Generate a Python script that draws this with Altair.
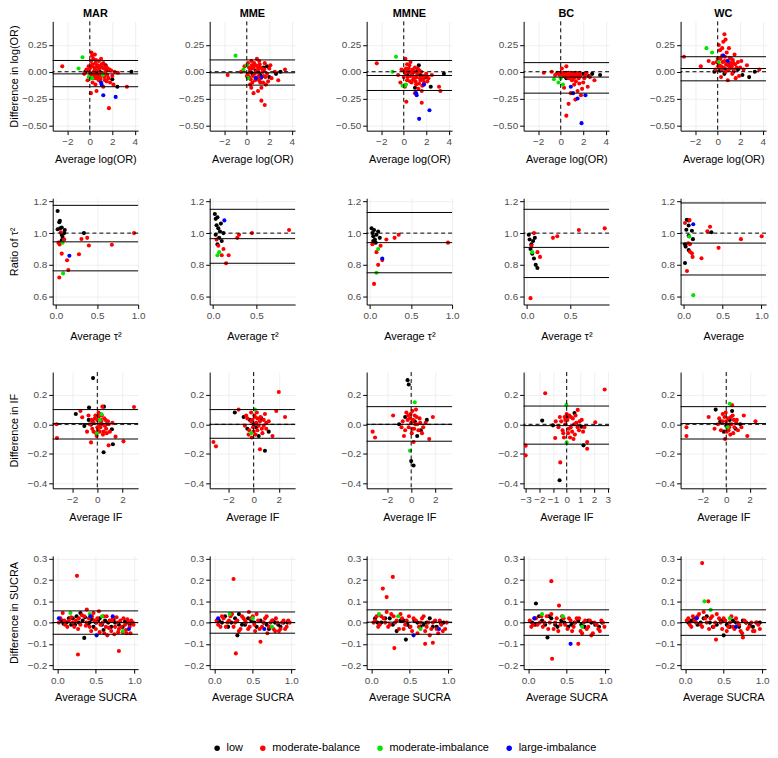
import altair as alt
import pandas as pd

FONT = "Liberation Sans"
METHODS = ["MAR", "MME", "MMNE", "BC", "WC"]
CATEGORIES = ["low", "moderate-balance", "moderate-imbalance", "large-imbalance"]
CAT_COLORS = ["#000000", "#ff0000", "#00e600", "#0000ff"]
CODES = {"l": "low", "r": "moderate-balance", "g": "moderate-imbalance", "b": "large-imbalance"}

# ---------------- Row 1: log(OR) ----------------
LOR_MAR = [(-2.45,0.05,'r'),(-0.5,-0.02,'r'),(-0.3,0.02,'r'),(-0.2,-0.08,'r'),(0.0,0.03,'r'),(0.1,0.1,'r'),(0.15,0.18,'r'),(0.2,0.15,'r'),(0.3,0.12,'r'),(0.4,0.04,'r'),(0.5,0.08,'r'),(0.6,-0.03,'r'),(0.7,0.06,'r'),(0.9,0.05,'r'),(0.9,-0.01,'r'),(1.0,-0.04,'r'),(1.1,0.04,'r'),(1.3,-0.05,'r'),(1.4,0.0,'r'),(1.5,-0.09,'r'),(1.6,0.03,'r'),(1.8,-0.1,'r'),(1.9,0.01,'r'),(2.0,-0.04,'r'),(2.1,-0.12,'r'),(2.2,0.0,'r'),(2.5,-0.01,'r'),(0.3,-0.06,'r'),(0.8,-0.08,'r'),(0.5,-0.12,'r'),(1.2,-0.14,'r'),(0.1,-0.2,'r'),(0.6,-0.18,'r'),(1.7,-0.34,'r'),(3.3,-0.14,'r'),(0.2,-0.04,'r'),(0.35,0.0,'r'),(0.6,0.02,'r'),(0.8,0.1,'r'),(1.2,0.08,'r'),(-0.1,0.05,'r'),(0.25,-0.1,'r'),(1.0,0.12,'r'),(0.45,0.16,'r'),
           (0.3,-0.01,'l'),(0.5,0.0,'l'),(0.7,-0.02,'l'),(0.4,-0.03,'l'),(1.4,0.06,'l'),(1.5,0.02,'l'),(3.7,0.0,'l'),(2.45,-0.14,'l'),(2.0,-0.07,'l'),(-0.4,0.0,'l'),(0.9,0.0,'l'),(1.2,-0.03,'l'),(0.2,-0.02,'l'),(0.6,-0.01,'l'),
           (-0.65,0.135,'g'),(-1.0,0.03,'g'),(-0.1,-0.05,'g'),(1.15,-0.03,'g'),(0.2,-0.06,'g'),
           (1.0,-0.1,'b'),(1.05,-0.12,'b'),(1.2,-0.22,'b'),(2.3,-0.235,'b')]
LOR_MAR_EXTRA = [(0.15,0.05,'r'),(0.25,0.07,'r'),(0.35,-0.03,'r'),(0.45,0.02,'r'),(0.55,-0.06,'r'),(0.65,0.05,'r'),(0.75,-0.05,'r'),(0.85,0.03,'r'),(0.95,-0.07,'r'),(1.05,0.07,'r'),(1.15,-0.02,'r'),(1.25,0.03,'r'),(1.35,-0.08,'r'),(1.45,0.05,'r'),(1.55,-0.03,'r'),(1.65,-0.06,'r'),(1.75,0.02,'r'),(0.05,-0.03,'r'),(-0.05,0.0,'r'),(0.55,0.11,'r')]
LOR_MME = [(-1.7,-0.03,'r'),(-0.5,0.0,'r'),(-0.2,0.05,'r'),(0.1,0.08,'r'),(0.2,-0.05,'r'),(0.3,0.02,'r'),(0.4,0.1,'r'),(0.5,-0.1,'r'),(0.6,0.04,'r'),(0.7,-0.02,'r'),(0.8,0.06,'r'),(0.9,-0.06,'r'),(1.0,0.02,'r'),(1.1,-0.08,'r'),(1.2,0.04,'r'),(1.3,-0.15,'r'),(1.4,0.0,'r'),(1.5,-0.04,'r'),(1.6,0.08,'r'),(1.7,-0.12,'r'),(1.8,-0.02,'r'),(2.0,0.03,'r'),(2.2,-0.06,'r'),(2.5,0.0,'r'),(2.8,-0.08,'r'),(3.4,0.02,'r'),(0.6,-0.2,'r'),(1.3,-0.27,'r'),(1.6,-0.31,'r'),(1.0,-0.18,'r'),(0.3,-0.12,'r'),(0.9,0.12,'r'),(1.2,-0.1,'r'),(0.5,0.03,'r'),(0.1,-0.02,'r'),
           (0.5,-0.02,'l'),(1.0,0.0,'l'),(1.5,0.04,'l'),(1.8,0.05,'l'),(2.0,-0.05,'l'),(0.8,0.01,'l'),(0.3,0.0,'l'),(1.2,-0.03,'l'),(2.6,-0.02,'l'),(3.0,0.0,'l'),
           (-1.0,0.15,'g'),(0.1,-0.06,'g'),(-0.3,0.02,'g'),(0.0,0.06,'g'),
           (0.8,-0.06,'b'),(1.3,-0.05,'b')]
LOR_MME_EXTRA = [(0.2,0.04,'r'),(0.35,-0.07,'r'),(0.45,0.06,'r'),(0.55,-0.04,'r'),(0.65,0.08,'r'),(0.75,-0.08,'r'),(0.85,0.0,'r'),(0.95,0.05,'r'),(1.05,-0.04,'r'),(1.15,0.07,'r'),(1.25,-0.06,'r'),(1.35,0.03,'r'),(1.45,-0.1,'r'),(1.55,0.02,'r'),(1.65,-0.05,'r'),(1.9,-0.09,'r'),(2.1,0.06,'r'),(0.0,-0.04,'r'),(0.4,-0.15,'r'),(1.1,0.1,'r')]
LOR_MMNE = [(-2.4,0.078,'r'),(0.15,0.12,'r'),(0.23,-0.28,'r'),(1.6,-0.29,'r'),(3.14,-0.14,'r'),(3.26,-0.18,'r'),(-0.5,-0.03,'r'),(-0.2,0.02,'r'),(0.0,-0.05,'r'),(0.2,0.03,'r'),(0.3,-0.08,'r'),(0.4,0.0,'r'),(0.5,0.06,'r'),(0.6,-0.04,'r'),(0.7,-0.1,'r'),(0.8,0.02,'r'),(0.9,-0.06,'r'),(1.0,0.04,'r'),(1.1,-0.12,'r'),(1.2,-0.02,'r'),(1.3,-0.16,'r'),(1.4,0.01,'r'),(1.5,-0.08,'r'),(1.6,-0.18,'r'),(1.7,-0.04,'r'),(1.8,-0.1,'r'),(2.0,-0.02,'r'),(2.2,-0.06,'r'),(2.5,-0.03,'r'),(0.3,0.07,'r'),(1.0,-0.2,'r'),(0.6,0.09,'r'),(-0.3,-0.1,'r'),(0.1,-0.14,'r'),
            (1.34,0.06,'l'),(3.57,-0.02,'l'),(2.4,-0.14,'l'),(1.0,-0.15,'l'),(0.5,0.0,'l'),(0.8,-0.01,'l'),(1.2,0.01,'l'),(0.3,-0.02,'l'),(1.5,-0.03,'l'),(2.0,-0.05,'l'),
            (-0.69,0.14,'g'),(-1.0,0.0,'g'),(-0.1,-0.13,'g'),(0.2,-0.12,'g'),(0.05,-0.13,'g'),
            (1.1,-0.2,'b'),(1.15,-0.22,'b'),(1.37,-0.44,'b'),(2.29,-0.36,'b'),(1.8,-0.12,'b')]
LOR_MMNE_EXTRA = [(0.15,-0.02,'r'),(0.25,0.02,'r'),(0.35,-0.05,'r'),(0.45,0.03,'r'),(0.55,-0.09,'r'),(0.65,0.0,'r'),(0.75,-0.03,'r'),(0.85,-0.07,'r'),(0.95,0.0,'r'),(1.05,-0.09,'r'),(1.15,-0.05,'r'),(1.25,0.03,'r'),(1.35,-0.11,'r'),(1.45,-0.06,'r'),(1.55,0.0,'r'),(1.65,-0.13,'r'),(1.75,-0.07,'r'),(1.9,-0.04,'r'),(2.1,-0.09,'r'),(0.05,0.01,'r')]
LOR_BC = [(-1.5,-0.01,'r'),(-0.8,0.0,'r'),(-0.5,-0.03,'r'),(-0.2,-0.02,'r'),(0.0,-0.01,'r'),(0.2,-0.04,'r'),(0.4,-0.02,'r'),(0.5,-0.41,'r'),(0.6,-0.05,'r'),(0.8,-0.03,'r'),(1.0,-0.08,'r'),(1.1,-0.02,'r'),(1.2,-0.12,'r'),(1.4,-0.04,'r'),(1.5,-0.18,'r'),(1.6,-0.06,'r'),(1.8,-0.22,'r'),(2.0,-0.1,'r'),(2.2,-0.03,'r'),(2.4,-0.14,'r'),(2.6,-0.05,'r'),(3.0,-0.08,'r'),(0.7,-0.3,'r'),(1.3,-0.26,'r'),(0.3,-0.15,'r'),(0.9,-0.2,'r'),(1.9,-0.16,'r'),(0.1,0.03,'r'),(0.5,0.05,'r'),(1.7,-0.01,'r'),
          (-0.3,-0.01,'l'),(0.3,-0.02,'l'),(0.7,-0.01,'l'),(1.0,-0.03,'l'),(1.3,-0.01,'l'),(1.6,-0.02,'l'),(2.0,-0.02,'l'),(2.5,-0.04,'l'),(3.5,-0.03,'l'),(0.5,-0.06,'l'),(1.2,-0.05,'l'),(2.8,-0.02,'l'),
          (-0.6,-0.07,'g'),(-0.2,-0.1,'g'),(0.2,-0.12,'g'),(0.0,-0.06,'g'),
          (1.85,-0.48,'b'),(1.5,-0.25,'b'),(2.2,-0.22,'b'),(1.1,-0.2,'b'),(0.9,-0.14,'b')]
LOR_BC_EXTRA = [(0.15,-0.02,'r'),(0.25,-0.01,'r'),(0.35,-0.04,'r'),(0.45,-0.01,'r'),(0.55,-0.03,'r'),(0.65,-0.02,'r'),(0.75,-0.06,'r'),(0.85,-0.01,'r'),(0.95,-0.04,'r'),(1.05,-0.02,'r'),(1.15,-0.06,'r'),(1.25,-0.03,'r'),(1.35,-0.09,'r'),(1.45,-0.02,'r'),(1.55,-0.05,'r'),(1.65,-0.11,'r'),(1.75,-0.04,'r'),(2.1,-0.06,'r'),(2.3,-0.01,'r'),(-0.1,-0.03,'r')]
LOR_WC = [(-3.0,0.14,'r'),(-1.5,0.05,'r'),(-0.8,0.1,'r'),(-0.4,0.08,'r'),(-0.2,0.02,'r'),(0.0,0.12,'r'),(0.2,0.2,'r'),(0.3,0.05,'r'),(0.4,0.15,'r'),(0.5,0.28,'r'),(0.6,0.35,'r'),(0.6,0.1,'r'),(0.7,0.0,'r'),(0.8,0.18,'r'),(0.9,0.06,'r'),(1.0,0.22,'r'),(1.1,0.03,'r'),(1.2,0.12,'r'),(1.3,-0.02,'r'),(1.4,0.08,'r'),(1.5,0.16,'r'),(1.7,0.04,'r'),(1.9,-0.04,'r'),(2.1,0.1,'r'),(2.3,0.02,'r'),(2.6,0.06,'r'),(3.7,0.02,'r'),(0.3,-0.05,'r'),(0.9,-0.08,'r'),(1.6,-0.06,'r'),(0.1,0.25,'r'),(0.7,0.3,'r'),
          (-0.3,0.0,'l'),(0.2,0.01,'l'),(0.5,0.03,'l'),(0.8,0.02,'l'),(1.1,0.05,'l'),(1.4,0.0,'l'),(1.8,0.02,'l'),(2.2,-0.03,'l'),(2.8,-0.05,'l'),(3.3,0.0,'l'),(0.6,-0.02,'l'),(1.0,0.07,'l'),
          (-1.0,0.22,'g'),(-0.5,0.18,'g'),(0.1,0.09,'g'),
          (0.5,0.15,'b'),(0.9,0.1,'b')]
LOR_WC_EXTRA = [(0.15,0.06,'r'),(0.25,0.12,'r'),(0.35,0.02,'r'),(0.45,0.09,'r'),(0.55,0.04,'r'),(0.65,0.14,'r'),(0.75,0.07,'r'),(0.85,0.1,'r'),(0.95,0.02,'r'),(1.05,0.13,'r'),(1.15,0.08,'r'),(1.25,0.05,'r'),(1.35,0.11,'r'),(1.45,0.02,'r'),(1.55,0.07,'r'),(1.8,0.09,'r'),(2.0,0.04,'r'),(0.05,0.05,'r'),(-0.1,0.09,'r'),(0.4,0.22,'r')]
LOR_UPPER = [0.105, 0.11, 0.105, 0.085, 0.14]
LOR_MEAN = [-0.02, -0.01, -0.035, -0.05, 0.03]
LOR_LOWER = [-0.14, -0.125, -0.175, -0.2, -0.085]

# ---------------- Row 2: ratio of tau^2 ----------------
TAU_MAR = [(0.02,1.139,'l'),(0.047,1.078,'l'),(0.04,1.069,'l'),(0.02,1.024,'l'),(0.05,1.03,'l'),(0.07,1.035,'l'),(0.107,1.02,'l'),(0.07,0.99,'l'),(0.08,0.975,'l'),(0.07,0.955,'l'),(0.34,1.0,'l'),(0.1,1.0,'l'),
           (0.044,0.929,'r'),(0.03,0.94,'r'),(0.06,1.005,'r'),(0.07,0.871,'r'),(0.135,0.829,'r'),(0.15,0.767,'r'),(0.04,0.72,'r'),(0.28,0.867,'r'),(0.31,0.963,'r'),(0.38,0.97,'r'),(0.4,0.922,'r'),(0.68,0.927,'r'),(0.95,1.0,'r'),(0.1,0.96,'r'),
           (0.08,0.939,'g'),(0.087,0.746,'g'),
           (0.163,0.857,'b')]
TAU_MME = [(0.02,1.12,'l'),(0.03,1.09,'l'),(0.05,1.1,'l'),(0.04,1.05,'l'),(0.06,1.03,'l'),(0.08,1.01,'l'),(0.03,0.99,'l'),(0.07,0.97,'l'),(0.1,0.95,'l'),(0.05,0.93,'l'),(0.12,1.0,'l'),(0.09,1.06,'l'),
           (0.04,0.96,'r'),(0.1,0.86,'r'),(0.15,0.81,'r'),(0.18,0.86,'r'),(0.12,0.9,'r'),(0.28,0.97,'r'),(0.3,0.99,'r'),(0.45,1.0,'r'),(0.88,1.02,'r'),(0.06,0.92,'r'),
           (0.05,0.86,'g'),(0.07,0.88,'g'),
           (0.13,1.08,'b')]
TAU_MMNE = [(0.02,1.03,'l'),(0.03,1.0,'l'),(0.04,0.98,'l'),(0.05,1.02,'l'),(0.06,0.96,'l'),(0.08,0.99,'l'),(0.1,1.01,'l'),(0.07,0.94,'l'),(0.12,0.97,'l'),(0.04,0.95,'l'),
            (0.03,0.93,'r'),(0.05,0.68,'r'),(0.1,0.8,'r'),(0.13,0.92,'r'),(0.15,0.83,'r'),(0.3,0.97,'r'),(0.35,0.99,'r'),(0.95,0.94,'r'),(0.2,0.96,'r'),(0.08,0.88,'r'),
            (0.08,0.75,'g'),(0.1,0.9,'g'),
            (0.15,0.84,'b')]
TAU_BC = [(0.02,0.99,'l'),(0.03,0.96,'l'),(0.05,0.93,'l'),(0.04,0.9,'l'),(0.06,0.87,'l'),(0.08,0.84,'l'),(0.1,0.8,'l'),(0.12,0.78,'l'),(0.07,0.95,'l'),(0.09,0.97,'l'),
          (0.04,0.59,'r'),(0.15,0.85,'r'),(0.3,0.97,'r'),(0.35,0.98,'r'),(0.6,1.02,'r'),(0.9,1.03,'r'),(0.05,0.92,'r'),(0.12,0.88,'r'),(0.08,1.0,'r'),
          (0.06,0.88,'g')]
TAU_WC = [(0.04,1.084,'l'),(0.064,1.08,'l'),(0.034,1.021,'l'),(0.064,1.048,'l'),(0.106,1.015,'l'),(0.064,0.983,'l'),(0.119,0.962,'l'),(0.017,0.93,'l'),(0.025,0.915,'l'),(0.064,0.893,'l'),(0.017,0.812,'l'),(0.356,1.005,'l'),
          (0.017,1.064,'r'),(0.076,1.082,'r'),(0.059,0.936,'r'),(0.08,0.883,'r'),(0.106,0.873,'r'),(0.114,0.85,'r'),(0.229,0.842,'r'),(0.042,0.761,'r'),(0.305,1.011,'r'),(0.339,1.04,'r'),(0.449,0.907,'r'),(0.737,0.962,'r'),(1.004,0.98,'r'),(0.08,0.93,'r'),
          (0.123,0.609,'g'),(0.072,0.978,'g'),
          (0.123,1.056,'b')]
TAU_UPPER = [1.175, 1.15, 1.13, 1.15, 1.19]
TAU_MEAN = [0.945, 0.965, 0.94, 0.91, 0.937]
TAU_LOWER = [0.762, 0.81, 0.75, 0.72, 0.736]

# ---------------- Row 3: inconsistency factor ----------------
IF_MAR = [(-0.34,0.314,'l'),(-0.66,0.114,'l'),(-1.71,0.07,'l'),(-0.68,0.03,'l'),(-0.39,0.025,'l'),(-0.5,-0.002,'l'),(-1.03,-0.011,'l'),(0.53,0.12,'l'),(0.71,0.0,'l'),(1.16,-0.034,'l'),(1.24,-0.136,'l'),(0.5,-0.19,'l'),(0.24,0.03,'l'),
          (2.92,0.118,'r'),(-3.24,0.0,'r'),(-3.21,-0.093,'r'),(-1.34,0.09,'r'),(-1.2,0.048,'r'),(-0.82,-0.05,'r'),(-0.5,-0.123,'r'),(0.9,-0.143,'r'),(1.45,-0.084,'r'),(2.08,-0.116,'r'),(0.4,0.12,'r'),(-0.7,0.06,'r'),(-0.4,-0.03,'r'),(-0.2,0.04,'r'),(0.0,-0.02,'r'),(0.1,0.05,'r'),(0.2,-0.05,'r'),(0.3,0.02,'r'),(0.45,-0.07,'r'),(0.55,0.04,'r'),(0.7,-0.03,'r'),(0.85,0.02,'r'),(1.0,-0.05,'r'),(1.2,0.01,'r'),(-0.1,-0.06,'r'),(0.15,0.0,'r'),(0.35,0.06,'r'),(-0.3,0.01,'r'),(0.6,-0.01,'r'),
          (0.34,0.068,'g'),(-0.03,-0.06,'g'),(0.2,0.03,'g')]
IF_MAR_EXTRA = [(-0.6,0.0,'r'),(-0.45,0.03,'r'),(-0.3,-0.05,'r'),(-0.15,0.06,'r'),(0.0,0.03,'r'),(0.05,-0.04,'r'),(0.2,0.07,'r'),(0.25,-0.02,'r'),(0.4,0.0,'r'),(0.5,-0.05,'r'),(0.65,0.03,'r'),(0.75,-0.06,'r'),(0.9,0.0,'r'),(-0.05,-0.08,'r'),(0.1,0.08,'r')]
IF_MME = [(-1.5,0.08,'l'),(-0.8,0.05,'l'),(-0.3,0.03,'l'),(0.2,-0.02,'l'),(0.6,0.04,'l'),(0.9,-0.18,'l'),(1.2,-0.05,'l'),(0.0,0.0,'l'),(-0.5,-0.03,'l'),(0.4,-0.08,'l'),
          (2.0,0.22,'r'),(-3.2,-0.12,'r'),(-3.0,-0.15,'r'),(0.5,-0.17,'r'),(-1.2,0.1,'r'),(-0.6,0.06,'r'),(-0.2,0.08,'r'),(0.1,0.05,'r'),(0.3,-0.04,'r'),(0.5,0.02,'r'),(0.7,-0.06,'r'),(0.9,0.07,'r'),(1.2,0.02,'r'),(1.5,-0.08,'r'),(1.8,0.09,'r'),(2.5,0.05,'r'),(-0.4,-0.07,'r'),(0.2,0.01,'r'),(0.0,-0.05,'r'),(-0.1,0.03,'r'),(0.8,-0.01,'r'),(1.0,-0.03,'r'),
          (0.1,0.1,'g'),(-0.2,-0.06,'g')]
IF_MME_EXTRA = [(-0.7,-0.01,'r'),(-0.5,0.04,'r'),(-0.35,-0.04,'r'),(-0.2,0.02,'r'),(-0.05,-0.02,'r'),(0.05,0.06,'r'),(0.15,-0.07,'r'),(0.3,0.04,'r'),(0.4,-0.01,'r'),(0.55,0.05,'r'),(0.65,-0.03,'r'),(0.8,0.03,'r'),(1.0,0.01,'r'),(0.25,0.08,'r'),(-0.15,-0.09,'r')]
IF_MMNE = [(-0.3,0.3,'l'),(-0.2,0.27,'l'),(0.0,-0.25,'l'),(0.2,-0.28,'l'),(-0.5,0.05,'l'),(0.3,0.02,'l'),(0.8,-0.04,'l'),(1.3,0.03,'l'),(-1.0,0.0,'l'),(0.5,-0.08,'l'),
           (-3.2,-0.05,'r'),(-3.0,-0.09,'r'),(1.5,-0.1,'r'),(-1.5,0.06,'r'),(-0.8,-0.02,'r'),(-0.4,0.08,'r'),(-0.1,0.04,'r'),(0.1,-0.03,'r'),(0.3,0.06,'r'),(0.5,0.0,'r'),(0.7,0.04,'r'),(0.9,-0.06,'r'),(1.2,0.01,'r'),(1.8,0.05,'r'),(-0.6,-0.08,'r'),(0.2,-0.12,'r'),(0.4,0.1,'r'),(0.0,0.01,'r'),
           (-0.1,-0.18,'g'),(0.3,0.15,'g')]
IF_MMNE_EXTRA = [(-0.7,0.02,'r'),(-0.5,-0.04,'r'),(-0.3,0.03,'r'),(-0.2,-0.02,'r'),(-0.05,0.07,'r'),(0.05,-0.06,'r'),(0.15,0.03,'r'),(0.25,-0.03,'r'),(0.35,0.0,'r'),(0.45,0.05,'r'),(0.6,-0.04,'r'),(0.75,0.01,'r'),(1.0,-0.02,'r'),(-0.25,0.06,'r'),(0.1,0.09,'r')]
IF_BC = [(-1.57,0.211,'r'),(2.78,0.236,'r'),(-3.0,-0.145,'r'),(-3.0,-0.211,'r'),(-0.47,-0.259,'r'),(1.5,-0.166,'r'),(1.5,-0.12,'r'),(2.09,0.014,'r'),(0.81,0.098,'r'),(-0.84,-0.093,'r'),(-0.8,0.02,'r'),(-0.5,0.05,'r'),(-0.3,-0.04,'r'),(-0.1,0.03,'r'),(0.1,-0.06,'r'),(0.2,0.06,'r'),(0.3,-0.02,'r'),(0.45,0.04,'r'),(0.6,-0.07,'r'),(0.7,0.01,'r'),(0.9,-0.04,'r'),(1.1,0.03,'r'),(1.3,-0.02,'r'),(-0.2,-0.09,'r'),(0.0,0.07,'r'),(0.5,-0.1,'r'),
         (-1.79,0.025,'l'),(-0.52,-0.38,'l'),(1.23,-0.143,'l'),(0.57,0.077,'l'),(0.0,0.048,'l'),(1.08,-0.016,'l'),(-1.0,-0.007,'l'),
         (-0.02,0.132,'g'),(0.0,-0.123,'g')]
IF_BC_EXTRA = [(-0.6,-0.02,'r'),(-0.4,0.02,'r'),(-0.25,-0.06,'r'),(-0.1,0.0,'r'),(0.05,0.03,'r'),(0.15,-0.03,'r'),(0.3,0.05,'r'),(0.4,-0.05,'r'),(0.55,0.0,'r'),(0.65,0.06,'r'),(0.8,-0.02,'r'),(0.95,0.02,'r'),(1.2,-0.05,'r'),(-0.15,0.05,'r'),(0.25,-0.09,'r')]
IF_WC = [(-0.9,0.1,'l'),(0.5,0.09,'l'),(-0.5,0.02,'l'),(0.0,-0.01,'l'),(0.3,0.03,'l'),(0.8,-0.03,'l'),(-0.2,-0.05,'l'),(1.2,0.0,'l'),
         (-3.4,-0.02,'r'),(-3.4,-0.08,'r'),(1.8,-0.08,'r'),(0.5,0.13,'r'),(-1.5,0.05,'r'),(-1.0,-0.03,'r'),(-0.6,0.04,'r'),(-0.3,0.07,'r'),(0.0,0.02,'r'),(0.2,-0.04,'r'),(0.4,0.05,'r'),(0.6,-0.06,'r'),(0.9,0.03,'r'),(1.3,-0.02,'r'),(1.5,0.06,'r'),(-0.1,-0.1,'r'),(0.3,0.0,'r'),(2.5,0.02,'r'),
         (0.3,0.14,'g'),(0.1,-0.02,'g')]
IF_WC_EXTRA = [(-0.7,0.0,'r'),(-0.45,-0.04,'r'),(-0.3,0.02,'r'),(-0.15,0.05,'r'),(0.05,-0.05,'r'),(0.15,0.04,'r'),(0.25,-0.02,'r'),(0.45,0.0,'r'),(0.55,0.06,'r'),(0.7,-0.02,'r'),(0.85,0.01,'r'),(1.0,-0.04,'r'),(-0.05,0.08,'r'),(0.35,-0.07,'r'),(0.65,0.03,'r')]
IF_UPPER = [0.1, 0.1, 0.12, 0.124, 0.12]
IF_MEAN = [0.005, 0.0, 0.0, -0.009, 0.005]
IF_LOWER = [-0.1, -0.095, -0.115, -0.135, -0.1]

# ---------------- Row 4: SUCRA ----------------
SU_MAR = [(0.255,0.22,'r'),(0.268,-0.15,'r'),(0.8,-0.134,'r'),(0.383,0.061,'r'),(0.54,0.053,'r'),
          (0.02,0.0,'r'),(0.07,0.045,'r'),(0.1,-0.01,'r'),(0.15,0.01,'r'),(0.2,0.0,'r'),(0.22,-0.02,'r'),(0.28,0.02,'r'),(0.3,-0.01,'r'),(0.35,0.03,'r'),(0.38,0.0,'r'),(0.42,-0.02,'r'),(0.45,0.03,'r'),(0.48,0.01,'r'),(0.5,-0.03,'r'),(0.52,0.02,'r'),(0.56,-0.01,'r'),(0.6,0.03,'r'),(0.63,-0.02,'r'),(0.65,-0.06,'r'),(0.68,0.01,'r'),(0.7,-0.04,'r'),(0.72,0.02,'r'),(0.75,-0.02,'r'),(0.78,0.0,'r'),(0.8,-0.03,'r'),(0.82,0.01,'r'),(0.85,-0.045,'r'),(0.88,-0.01,'r'),(0.9,-0.05,'r'),(0.93,0.0,'r'),(0.95,-0.05,'r'),(0.98,0.0,'r'),
          (0.35,-0.072,'l'),(0.05,0.01,'l'),(0.12,0.0,'l'),(0.2,0.02,'l'),(0.25,0.03,'l'),(0.3,0.045,'l'),(0.33,0.01,'l'),(0.4,-0.005,'l'),(0.45,0.015,'l'),(0.5,0.0,'l'),(0.55,0.02,'l'),(0.6,-0.035,'l'),(0.62,0.01,'l'),(0.7,-0.02,'l'),(0.75,0.0,'l'),(0.85,-0.02,'l'),(0.9,0.0,'l'),(0.97,0.0,'l'),(0.18,-0.01,'l'),
          (0.42,0.04,'g'),(0.17,0.045,'g'),(0.58,0.03,'g'),(0.85,-0.04,'g'),
          (0.02,0.02,'b'),(0.43,0.03,'b'),(0.51,-0.06,'b'),(0.93,-0.03,'b'),(0.72,0.03,'b')]
SU_MAR_EXTRA = [(0.04,0.02,'r'),(0.09,0.01,'r'),(0.13,-0.02,'r'),(0.18,0.025,'r'),(0.24,0.01,'r'),(0.27,-0.03,'r'),(0.32,0.035,'r'),(0.37,-0.015,'r'),(0.41,0.02,'r'),(0.44,-0.04,'r'),(0.47,0.045,'r'),(0.51,0.0,'r'),(0.55,-0.045,'r'),(0.59,0.0,'r'),(0.61,-0.05,'r'),(0.64,0.03,'r'),(0.67,-0.025,'r'),(0.71,0.01,'r'),(0.74,-0.055,'r'),(0.77,0.025,'r'),(0.79,-0.045,'r'),(0.83,-0.02,'r'),(0.86,0.02,'r'),(0.89,-0.035,'r'),(0.91,0.015,'r'),(0.94,-0.02,'r'),(0.96,0.01,'r'),(0.99,-0.01,'r'),
                (0.08,-0.005,'l'),(0.15,0.02,'l'),(0.23,-0.01,'l'),(0.28,0.0,'l'),(0.36,0.025,'l'),(0.42,0.0,'l'),(0.47,-0.02,'l'),(0.53,0.01,'l'),(0.58,-0.01,'l'),(0.66,0.0,'l'),(0.73,0.015,'l'),(0.8,-0.01,'l'),(0.88,0.005,'l'),(0.94,-0.01,'l')]
SU_MME = [(0.25,0.205,'r'),(0.28,-0.145,'r'),(0.6,-0.09,'r'),(0.45,0.05,'r'),
          (0.03,0.01,'r'),(0.08,-0.02,'r'),(0.12,0.02,'r'),(0.17,0.0,'r'),(0.21,0.03,'r'),(0.25,-0.02,'r'),(0.3,0.01,'r'),(0.34,-0.03,'r'),(0.38,0.02,'r'),(0.41,0.0,'r'),(0.46,-0.02,'r'),(0.5,0.03,'r'),(0.53,-0.04,'r'),(0.57,0.01,'r'),(0.62,-0.02,'r'),(0.66,0.02,'r'),(0.69,-0.05,'r'),(0.73,0.0,'r'),(0.77,-0.03,'r'),(0.8,0.02,'r'),(0.84,-0.04,'r'),(0.88,0.0,'r'),(0.92,-0.03,'r'),(0.96,0.01,'r'),
          (0.3,-0.06,'l'),(0.06,0.01,'l'),(0.14,0.03,'l'),(0.22,0.0,'l'),(0.32,0.04,'l'),(0.4,-0.01,'l'),(0.48,0.01,'l'),(0.55,-0.02,'l'),(0.64,0.0,'l'),(0.71,-0.03,'l'),(0.79,0.0,'l'),(0.86,-0.02,'l'),(0.95,0.0,'l'),
          (0.2,0.04,'g'),(0.5,0.02,'g'),(0.75,-0.02,'g'),
          (0.05,0.02,'b'),(0.65,-0.03,'b')]
SU_MME_EXTRA = [(0.05,-0.01,'r'),(0.1,0.03,'r'),(0.15,-0.02,'r'),(0.19,0.01,'r'),(0.23,0.04,'r'),(0.27,0.0,'r'),(0.32,-0.04,'r'),(0.36,0.03,'r'),(0.4,0.01,'r'),(0.44,-0.03,'r'),(0.48,0.02,'r'),(0.52,-0.01,'r'),(0.55,0.04,'r'),(0.59,-0.03,'r'),(0.64,0.0,'r'),(0.68,0.03,'r'),(0.71,-0.02,'r'),(0.75,0.01,'r'),(0.79,-0.04,'r'),(0.82,0.0,'r'),(0.86,-0.03,'r'),(0.9,0.01,'r'),(0.94,-0.02,'r'),(0.98,0.0,'r'),
                (0.1,0.0,'l'),(0.18,-0.02,'l'),(0.27,0.02,'l'),(0.36,-0.01,'l'),(0.44,0.02,'l'),(0.52,0.0,'l'),(0.6,0.01,'l'),(0.68,-0.01,'l'),(0.76,0.01,'l'),(0.83,-0.01,'l'),(0.9,0.0,'l')]
SU_MMNE = [(0.28,0.215,'r'),(0.15,0.16,'r'),(0.2,0.12,'r'),(0.3,-0.12,'r'),(0.7,-0.1,'r'),(0.8,-0.095,'r'),
           (0.03,0.0,'r'),(0.07,0.03,'r'),(0.11,-0.01,'r'),(0.16,0.02,'r'),(0.22,-0.02,'r'),(0.26,0.04,'r'),(0.31,0.0,'r'),(0.36,-0.03,'r'),(0.4,0.02,'r'),(0.44,-0.01,'r'),(0.49,0.03,'r'),(0.53,-0.04,'r'),(0.58,0.01,'r'),(0.62,-0.02,'r'),(0.66,0.02,'r'),(0.7,-0.04,'r'),(0.74,0.0,'r'),(0.78,-0.03,'r'),(0.83,0.01,'r'),(0.87,-0.05,'r'),(0.91,-0.01,'r'),(0.96,-0.03,'r'),
           (0.05,0.02,'l'),(0.13,0.0,'l'),(0.24,0.02,'l'),(0.33,-0.04,'l'),(0.42,0.01,'l'),(0.5,-0.02,'l'),(0.6,0.0,'l'),(0.68,-0.01,'l'),(0.76,0.02,'l'),(0.85,-0.02,'l'),(0.94,0.0,'l'),(0.45,-0.08,'l'),
           (0.1,0.04,'g'),(0.35,0.03,'g'),(0.64,-0.03,'g'),
           (0.55,-0.06,'b'),(0.88,-0.03,'b')]
SU_MMNE_EXTRA = [(0.05,0.01,'r'),(0.09,-0.02,'r'),(0.13,0.03,'r'),(0.18,0.0,'r'),(0.2,0.05,'r'),(0.24,-0.01,'r'),(0.29,0.03,'r'),(0.33,0.01,'r'),(0.38,0.04,'r'),(0.42,-0.03,'r'),(0.46,0.01,'r'),(0.51,-0.02,'r'),(0.55,0.02,'r'),(0.6,-0.05,'r'),(0.64,0.0,'r'),(0.68,0.03,'r'),(0.72,-0.02,'r'),(0.76,-0.06,'r'),(0.8,0.0,'r'),(0.85,-0.03,'r'),(0.89,0.01,'r'),(0.93,-0.04,'r'),(0.98,0.0,'r'),
                 (0.08,0.0,'l'),(0.18,0.02,'l'),(0.28,-0.01,'l'),(0.38,0.01,'l'),(0.47,-0.01,'l'),(0.56,0.01,'l'),(0.64,-0.02,'l'),(0.72,0.0,'l'),(0.8,-0.02,'l'),(0.9,0.0,'l')]
SU_BC = [(0.3,0.195,'r'),(0.31,-0.17,'r'),(0.65,-0.1,'r'),(0.4,0.08,'r'),
         (0.02,0.01,'r'),(0.06,-0.01,'r'),(0.1,0.02,'r'),(0.15,0.0,'r'),(0.19,-0.02,'r'),(0.24,0.03,'r'),(0.28,0.0,'r'),(0.33,-0.03,'r'),(0.37,0.02,'r'),(0.42,-0.01,'r'),(0.46,0.02,'r'),(0.51,-0.03,'r'),(0.55,0.01,'r'),(0.59,-0.02,'r'),(0.63,0.02,'r'),(0.68,-0.04,'r'),(0.72,0.0,'r'),(0.76,-0.03,'r'),(0.8,0.01,'r'),(0.84,-0.05,'r'),(0.89,-0.01,'r'),(0.93,-0.04,'r'),(0.97,0.0,'r'),
         (0.1,0.09,'l'),(0.05,0.0,'l'),(0.14,0.03,'l'),(0.22,-0.01,'l'),(0.3,0.02,'l'),(0.38,-0.02,'l'),(0.47,0.0,'l'),(0.56,-0.01,'l'),(0.65,0.01,'l'),(0.73,-0.02,'l'),(0.82,0.0,'l'),(0.92,-0.02,'l'),(0.25,-0.07,'l'),
         (0.18,0.04,'g'),(0.45,0.03,'g'),(0.7,-0.02,'g'),
         (0.55,-0.1,'b'),(0.08,0.02,'b')]
SU_BC_EXTRA = [(0.04,-0.02,'r'),(0.08,0.02,'r'),(0.12,-0.01,'r'),(0.17,0.03,'r'),(0.21,0.0,'r'),(0.26,-0.03,'r'),(0.3,0.04,'r'),(0.35,0.0,'r'),(0.39,-0.04,'r'),(0.44,0.03,'r'),(0.48,-0.01,'r'),(0.53,0.02,'r'),(0.57,-0.04,'r'),(0.61,0.0,'r'),(0.66,0.02,'r'),(0.7,-0.05,'r'),(0.74,0.01,'r'),(0.78,-0.02,'r'),(0.82,-0.06,'r'),(0.86,0.0,'r'),(0.91,-0.03,'r'),(0.95,0.01,'r'),(0.99,-0.02,'r'),
               (0.09,-0.01,'l'),(0.18,0.01,'l'),(0.27,0.03,'l'),(0.35,-0.01,'l'),(0.43,0.01,'l'),(0.52,-0.02,'l'),(0.6,0.0,'l'),(0.69,-0.01,'l'),(0.78,0.01,'l'),(0.87,-0.01,'l'),(0.96,0.0,'l')]
SU_WC = [(0.22,0.28,'r'),(0.3,0.1,'r'),(0.4,-0.08,'r'),(0.75,-0.07,'r'),
         (0.02,0.01,'r'),(0.06,-0.01,'r'),(0.1,0.03,'r'),(0.14,0.0,'r'),(0.18,0.04,'r'),(0.22,-0.02,'r'),(0.26,0.02,'r'),(0.31,-0.03,'r'),(0.35,0.03,'r'),(0.39,0.0,'r'),(0.44,0.02,'r'),(0.48,-0.03,'r'),(0.52,0.01,'r'),(0.56,-0.02,'r'),(0.6,0.03,'r'),(0.64,-0.03,'r'),(0.68,0.0,'r'),(0.72,-0.04,'r'),(0.77,0.01,'r'),(0.81,-0.03,'r'),(0.86,0.0,'r'),(0.9,-0.04,'r'),(0.95,-0.01,'r'),
         (0.04,0.0,'l'),(0.12,0.02,'l'),(0.2,0.0,'l'),(0.28,0.03,'l'),(0.36,-0.02,'l'),(0.46,0.01,'l'),(0.54,-0.01,'l'),(0.62,0.01,'l'),(0.7,-0.02,'l'),(0.79,0.0,'l'),(0.88,-0.02,'l'),(0.97,0.0,'l'),(0.5,-0.06,'l'),
         (0.25,0.1,'g'),(0.33,0.06,'g'),(0.58,0.02,'g'),
         (0.15,0.02,'b'),(0.66,-0.02,'b')]
SU_WC_EXTRA = [(0.04,0.02,'r'),(0.08,-0.02,'r'),(0.12,0.01,'r'),(0.16,0.03,'r'),(0.2,-0.01,'r'),(0.24,0.05,'r'),(0.28,0.0,'r'),(0.33,0.02,'r'),(0.37,-0.02,'r'),(0.41,0.04,'r'),(0.46,0.0,'r'),(0.5,0.02,'r'),(0.54,-0.04,'r'),(0.58,0.0,'r'),(0.62,-0.02,'r'),(0.66,0.02,'r'),(0.7,-0.01,'r'),(0.74,-0.05,'r'),(0.79,0.0,'r'),(0.83,-0.02,'r'),(0.88,-0.04,'r'),(0.92,0.0,'r'),(0.97,-0.03,'r'),
               (0.08,0.01,'l'),(0.16,-0.01,'l'),(0.24,0.02,'l'),(0.32,0.0,'l'),(0.41,-0.01,'l'),(0.5,0.01,'l'),(0.58,-0.02,'l'),(0.66,0.0,'l'),(0.75,0.01,'l'),(0.84,-0.01,'l'),(0.93,0.0,'l')]
SU_UPPER = [0.055, 0.05, 0.06, 0.06, 0.06]
SU_MEAN = [0.0, 0.0, 0.002, 0.0, 0.0]
SU_LOWER = [-0.055, -0.05, -0.055, -0.06, -0.06]

PANEL_W = 86
GAP = 72

ROWS = [
    dict(data=[LOR_MAR + LOR_MAR_EXTRA, LOR_MME + LOR_MME_EXTRA, LOR_MMNE + LOR_MMNE_EXTRA,
               LOR_BC + LOR_BC_EXTRA, LOR_WC + LOR_WC_EXTRA],
         lines=(LOR_UPPER, LOR_MEAN, LOR_LOWER), ref_y=0.0, ref_x=0.0,
         ydom=[-0.55, 0.47], yticks=[-0.5, -0.25, 0.0, 0.25], yfmt=".2f",
         xdoms=[[-3.3, 4.3]] * 5, xticks=[[-2, 0, 2, 4]] * 5, xfmt="d",
         xtitles=["Average log(OR)"] * 5, ytitle="Difference in log(OR)", h=110, tpad=7),
    dict(data=[TAU_MAR, TAU_MME, TAU_MMNE, TAU_BC, TAU_WC],
         lines=(TAU_UPPER, TAU_MEAN, TAU_LOWER), ref_y=1.0, ref_x=None,
         ydom=[0.55, 1.22], yticks=[0.6, 0.8, 1.0, 1.2], yfmt=".1f",
         xdoms=[[-0.04, 1.0], [-0.04, 0.95], [-0.04, 1.0], [-0.04, 0.95], [-0.04, 1.06]],
         xticks=[[0, 0.5, 1.0], [0, 0.5], [0, 0.5, 1.0], [0, 0.5], [0, 0.5, 1.0]], xfmt=".1f",
         xtitles=["Average τ²"] * 4 + ["Average"], ytitle="Ratio of τ²", h=107, tpad=10),
    dict(data=[IF_MAR + IF_MAR_EXTRA, IF_MME + IF_MME_EXTRA, IF_MMNE + IF_MMNE_EXTRA,
               IF_BC + IF_BC_EXTRA, IF_WC + IF_WC_EXTRA],
         lines=(IF_UPPER, IF_MEAN, IF_LOWER), ref_y=0.0, ref_x=0.0,
         ydom=[-0.435, 0.355], yticks=[-0.4, -0.2, 0.0, 0.2], yfmt=".1f",
         xdoms=[[-3.55, 3.25], [-3.5, 3.3], [-3.7, 3.4], [-3.15, 3.1], [-3.9, 3.4]],
         xticks=[[-2, 0, 2], [-2, 0, 2], [-2, 0, 2], [-3, -2, -1, 0, 1, 2, 3], [-2, 0, 2]], xfmt="d",
         xtitles=["Average IF"] * 5, ytitle="Difference in IF", h=117, tpad=7),
    dict(data=[SU_MAR + SU_MAR_EXTRA, SU_MME + SU_MME_EXTRA, SU_MMNE + SU_MMNE_EXTRA,
               SU_BC + SU_BC_EXTRA, SU_WC + SU_WC_EXTRA],
         lines=(SU_UPPER, SU_MEAN, SU_LOWER), ref_y=0.0, ref_x=None,
         ydom=[-0.219, 0.314], yticks=[-0.2, -0.1, 0.0, 0.1, 0.2, 0.3], yfmt=".1f",
         xdoms=[[-0.06, 1.05]] * 5, xticks=[[0, 0.5, 1.0]] * 5, xfmt=".1f",
         xtitles=["Average SUCRA"] * 5, ytitle="Difference in SUCRA", h=114, tpad=7),
]

CAT_ORDER = {"l": 0, "r": 1, "g": 2, "b": 3}


def make_panel(ri, ci, row):
    df = pd.DataFrame(row["data"][ci], columns=["x", "y", "g"])
    df["cat"] = df["g"].map(CODES)
    df["o"] = df["g"].map(CAT_ORDER)
    xs = alt.Scale(domain=row["xdoms"][ci], nice=False, zero=False)
    ys = alt.Scale(domain=row["ydom"], nice=False, zero=False)
    common = dict(labelOverlap=False, labelFlush=False, labelSeparation=0, labelBound=False)
    xaxis = alt.Axis(values=row["xticks"][ci], format=row["xfmt"], title=row["xtitles"][ci],
                     titlePadding=row["tpad"], **common)
    if ci == 0:
        yaxis = alt.Axis(values=row["yticks"], format=row["yfmt"], title=row["ytitle"], **common)
    else:
        yaxis = alt.Axis(values=row["yticks"], format=row["yfmt"], title=None, **common)

    pts = alt.Chart(df).mark_circle(size=17, opacity=1, clip=True).encode(
        x=alt.X("x:Q", scale=xs, axis=xaxis),
        y=alt.Y("y:Q", scale=ys, axis=yaxis),
        color=alt.Color("cat:N", scale=alt.Scale(domain=CATEGORIES, range=CAT_COLORS),
                        legend=alt.Legend(title=None, orient="none", direction="horizontal",
                                          legendX=160, legendY=726, symbolType="circle",
                                          symbolSize=30, labelFontSize=11, labelFont=FONT,
                                          labelColor="black",
                                          columnPadding=14, symbolStrokeWidth=0)),
        order=alt.Order("o:Q"),
    )
    up, mn, lo = row["lines"]
    ldf = pd.DataFrame({"v": [up[ci], mn[ci], lo[ci]]})
    solid = alt.Chart(ldf).mark_rule(color="black", strokeWidth=1).encode(
        y=alt.Y("v:Q", scale=ys, axis=yaxis))
    layers = [pts, solid]
    dy = alt.Chart(pd.DataFrame({"v": [row["ref_y"]]})).mark_rule(
        color="black", strokeWidth=1, strokeDash=[4, 3]).encode(
        y=alt.Y("v:Q", scale=ys, axis=yaxis))
    layers.append(dy)
    if row["ref_x"] is not None:
        dx = alt.Chart(pd.DataFrame({"v": [row["ref_x"]]})).mark_rule(
            color="black", strokeWidth=1, strokeDash=[4, 3]).encode(
            x=alt.X("v:Q", scale=xs, axis=xaxis))
        layers.append(dx)
    props = dict(width=PANEL_W, height=row["h"])
    if ri == 0:
        props["title"] = alt.TitleParams(METHODS[ci], fontSize=11, fontWeight="bold",
                                         font=FONT, offset=2, anchor="middle")
    return alt.layer(*layers).properties(**props)


panels = []
for ri, row in enumerate(ROWS):
    for ci in range(5):
        panels.append(make_panel(ri, ci, row))

chart = alt.concat(*panels, columns=5, spacing={"row": 68, "column": GAP}, bounds="flush").properties(
    padding={"left": 0, "top": -3, "right": 0, "bottom": 0}
).configure_axis(
    domainColor="black", domainWidth=1, tickColor="black", tickSize=4, tickWidth=1,
    labelColor="#4d4d4d", labelFontSize=10, labelFont=FONT, labelPadding=2,
    labelOverlap=False,
    titleFontSize=11, titleFont=FONT, titleFontWeight="normal", titleColor="black",
    gridColor="#ebebeb", gridWidth=0.8,
).configure_axisY(minExtent=30, maxExtent=30, titlePadding=3).configure_view(
    stroke="transparent"
)

chart.save("out.html", embed_options={"renderer": "svg", "actions": False})
